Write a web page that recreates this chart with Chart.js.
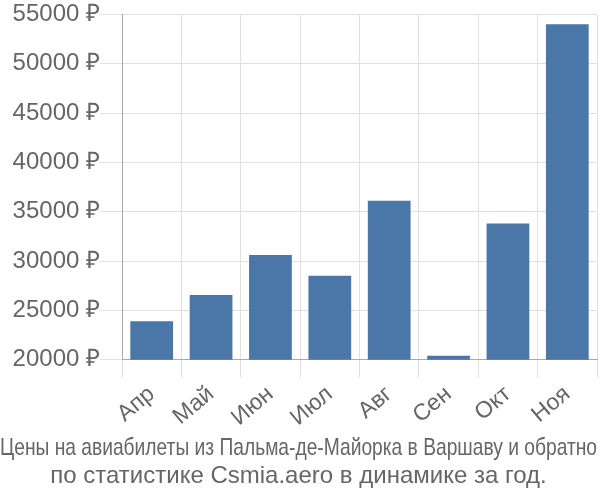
<!DOCTYPE html>
<html>
<head>
<meta charset="utf-8">
<script src="https://cdn.jsdelivr.net/npm/chart.js@4"></script>
<style>
  body { margin: 0; background: #fff; }
  #wrap { width: 600px; height: 500px; }
</style>
</head>
<body>
<div id="wrap"><canvas id="priceChart" width="600" height="500"></canvas></div>
<script>
const months = ['Апр', 'Май', 'Июн', 'Июл', 'Авг', 'Сен', 'Окт', 'Ноя'];
const prices = [23900, 26550, 30600, 28500, 36100, 20400, 33800, 54000];
const titleLines = [
  'Цены на авиабилеты из Пальма-де-Майорка в Варшаву и обратно',
  'по статистике Csmia.aero в динамике за год.'
];

Chart.defaults.font.family = '"Liberation Sans", Arial, sans-serif';
Chart.defaults.color = '#666';

const ctx = document.getElementById('priceChart').getContext('2d');
new Chart(ctx, {
  type: 'bar',
  data: {
    labels: months,
    datasets: [{
      data: prices,
      backgroundColor: '#4a76a8',
      barPercentage: 0.72,
      categoryPercentage: 1
    }]
  },
  options: {
    responsive: false,
    devicePixelRatio: 1,
    animation: false,
    layout: { padding: { top: 3, right: 3 } },
    plugins: {
      legend: { display: false },
      tooltip: { enabled: false },
      title: {
        display: true,
        position: 'bottom',
        text: titleLines,
        font: { size: 24, weight: 'normal', lineHeight: 1.15 },
        color: '#666',
        padding: { top: 0, bottom: 10 }
      }
    },
    scales: {
      x: {
        grid: { color: '#e0e0e0', offset: true, tickLength: 18 },
        border: { color: '#aaa' },
        ticks: { font: { size: 23 }, maxRotation: 40, minRotation: 40, color: '#666' }
      },
      y: {
        min: 20000,
        max: 55000,
        afterFit: scale => { scale.width = 122; },
        grid: { color: '#e0e0e0', tickLength: 22 },
        border: { color: '#aaa' },
        ticks: {
          stepSize: 5000,
          font: { size: 24 },
          color: '#666',
          padding: 0,
          callback: v => v + ' ₽'
        }
      }
    }
  }
});
</script>
</body>
</html>
